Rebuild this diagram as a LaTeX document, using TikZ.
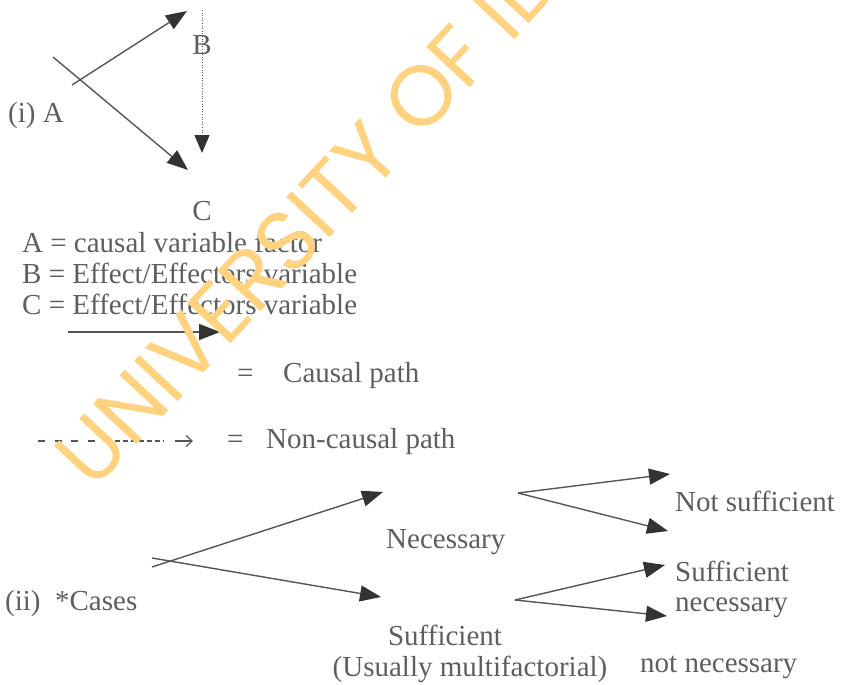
\documentclass[tikz,border=0pt]{standalone}
\usepackage{fontspec}
\setmainfont{Liberation Serif}
\newfontfamily\wmfont{Poppins}
\usetikzlibrary{arrows.meta}
\definecolor{txt}{HTML}{5E5E5E}
\definecolor{ln}{HTML}{555555}
\definecolor{hd}{HTML}{333333}
\definecolor{wm}{HTML}{FFD27F}
\begin{document}
\begin{tikzpicture}[x=1pt,y=-1pt,
  lbl/.style={inner sep=0pt, anchor=base west, text=txt, font=\fontsize{29}{31}\selectfont},
  causal/.style={draw=ln, line width=1.4pt, -{Triangle[length=21pt,width=16pt,color=hd]}},
  dotarrow/.style={draw=ln, line width=1pt, dash pattern=on 1pt off 1.6pt, -{Triangle[length=18pt,width=15pt,color=hd]}},
  dashpart/.style={draw=ln, line width=1.3pt},
  wmark/.style={rotate=47, anchor=base west, inner sep=0pt, text=wm, font=\wmfont\fontsize{85}{85}\selectfont}]
\useasboundingbox (0,0) rectangle (841,685);

% ---- part (i) ----
\node[lbl] (iA) at (8,122) {(i) A};
\node[lbl,anchor=base] (B) at (202,55) {B};
\node[lbl,anchor=base] (C) at (202,220) {C};

\coordinate (a1s) at (72,85);  \coordinate (a1e) at (187,11);
\coordinate (a2s) at (53,57);  \coordinate (a2e) at (188,170);
\coordinate (bs) at (202,10);  \coordinate (be) at (202,153);
\draw[causal] (a1s) -- (a1e);
\draw[causal] (a2s) -- (a2e);
\draw[dotarrow] (bs) -- (be);

% ---- legend ----
\node[lbl] (la) at (22,252) {A = causal variable factor};
\node[lbl] (lb) at (22,283) {B = Effect/Effectors variable};
\node[lbl] (lc) at (22,314) {C = Effect/Effectors variable};

\coordinate (cps) at (68,332); \coordinate (cpe) at (220,332);
\draw[causal] (cps) -- (cpe);
\node[lbl] (eq1) at (237,382) {=};
\node[lbl] (cp) at (283,382) {Causal path};

\coordinate (d1) at (38,441); \coordinate (d2) at (98,441);
\coordinate (d3) at (107,441); \coordinate (d4) at (164,441);
\coordinate (d5) at (175,441); \coordinate (d6) at (193,441);
\draw[dashpart, dash pattern=on 7pt off 9.7pt] (d1) -- (d2);
\draw[dashpart, dash pattern=on 5pt off 3pt] (d3) -- (d4);
\draw[draw=ln, line width=1.2pt, -{Straight Barb[length=6pt,width=11pt]}] (d5) -- (d6);
\node[lbl] (eq2) at (227,448) {=};
\node[lbl] (ncp) at (266,448) {Non-causal path};

% ---- part (ii) ----
\node[lbl] (cases) at (5,610) {(ii)\ \ *Cases};
\node[lbl] (nec) at (386,548) {Necessary};
\node[lbl,anchor=base] (suf) at (445,645) {Sufficient};
\node[lbl,anchor=base] (um) at (470,676) {(Usually multifactorial)};
\node[lbl] (ns) at (675,511) {Not sufficient};
\node[lbl] (sn1) at (675,581) {Sufficient};
\node[lbl] (sn2) at (675,611) {necessary};
\node[lbl] (nn) at (640,672) {not necessary};

\coordinate (c1s) at (152,567); \coordinate (c1e) at (383,492);
\coordinate (c2s) at (152,558); \coordinate (c2e) at (381,597);
\draw[causal] (c1s) -- (c1e);
\draw[causal] (c2s) -- (c2e);

\coordinate (v1) at (518,493);
\coordinate (v1a) at (670,474); \coordinate (v1b) at (668,531);
\draw[causal] (v1) -- (v1a);
\draw[causal] (v1) -- (v1b);

\coordinate (v2) at (515,600);
\coordinate (v2a) at (665,565); \coordinate (v2b) at (667,616);
\draw[causal] (v2) -- (v2a);
\draw[causal] (v2) -- (v2b);

% ---- watermark ----
\begin{scope}
\clip (0,0) rectangle (841,685);
\node[wmark] (wmk) at (93,492) {UNIVERSITY OF IBADAN};
\end{scope}
\end{tikzpicture}
\end{document}
